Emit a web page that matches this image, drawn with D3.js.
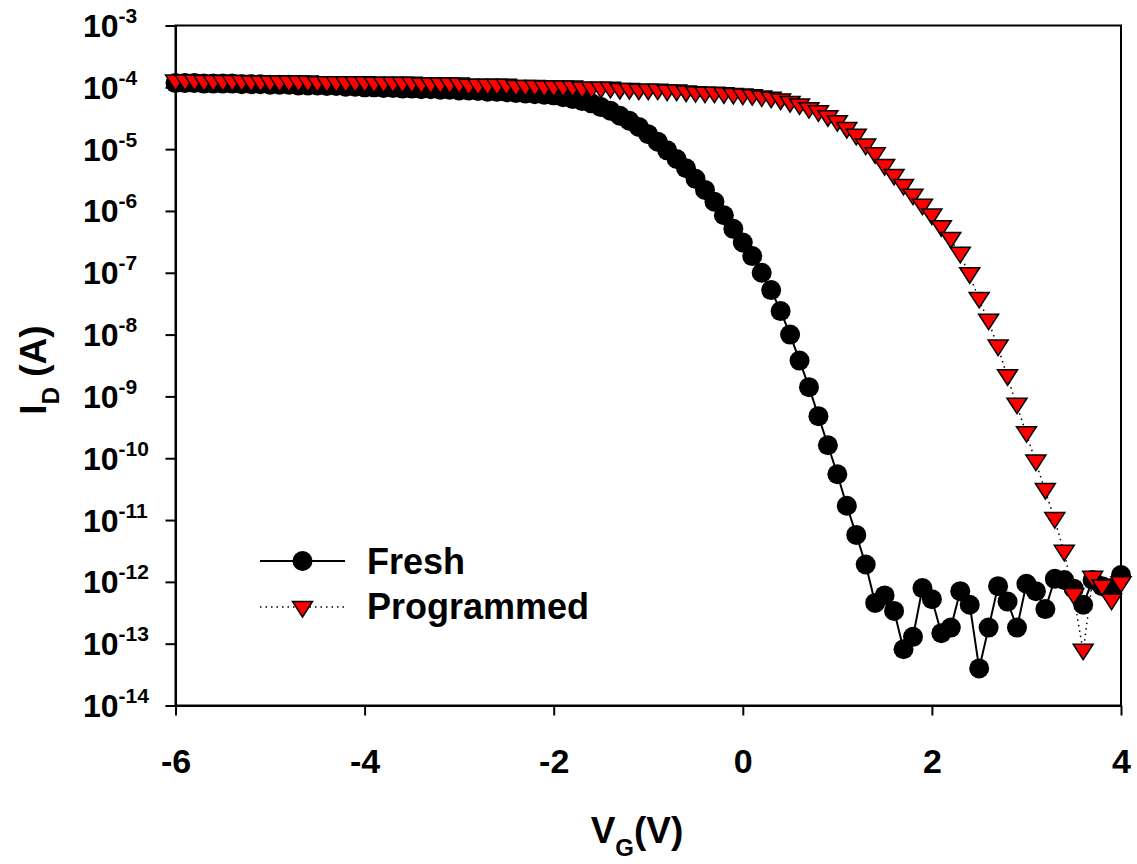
<!DOCTYPE html>
<html>
<head>
<meta charset="utf-8">
<script src="https://cdn.jsdelivr.net/npm/d3@7/dist/d3.min.js"></script>
<style>
  body { margin: 0; background: #fff; }
  svg { display: block; font-family: "Liberation Sans", Arial, sans-serif; font-weight: bold; }
</style>
</head>
<body>
<div id="chart"></div>
<script>
// gate voltage sweep (V)
const vg = [-6.0, -5.9, -5.8, -5.7, -5.6, -5.5, -5.4, -5.3, -5.2, -5.1,
    -5.0, -4.9, -4.8, -4.7, -4.6, -4.5, -4.4, -4.3, -4.2, -4.1,
    -4.0, -3.9, -3.8, -3.7, -3.6, -3.5, -3.4, -3.3, -3.2, -3.1,
    -3.0, -2.9, -2.8, -2.7, -2.6, -2.5, -2.4, -2.3, -2.2, -2.1,
    -2.0, -1.9, -1.8, -1.7, -1.6, -1.5, -1.4, -1.3, -1.2, -1.1,
    -1.0, -0.9, -0.8, -0.7, -0.6, -0.5, -0.4, -0.3, -0.2, -0.1,
    0.0, 0.1, 0.2, 0.3, 0.4, 0.5, 0.6, 0.7, 0.8, 0.9,
    1.0, 1.1, 1.2, 1.3, 1.4, 1.5, 1.6, 1.7, 1.8, 1.9,
    2.0, 2.1, 2.2, 2.3, 2.4, 2.5, 2.6, 2.7, 2.8, 2.9,
    3.0, 3.1, 3.2, 3.3, 3.4, 3.5, 3.6, 3.7, 3.8, 3.9, 4.0];

// drain current (A), fresh device
const idFresh = [1.17e-4, 1.17e-4, 1.17e-4, 1.15e-4, 1.15e-4, 1.15e-4, 1.15e-4, 1.12e-4, 1.12e-4, 1.12e-4,
    1.10e-4, 1.10e-4, 1.10e-4, 1.07e-4, 1.07e-4, 1.07e-4, 1.05e-4, 1.05e-4, 1.02e-4, 1.02e-4,
    1.00e-4, 1.00e-4, 9.77e-5, 9.77e-5, 9.55e-5, 9.55e-5, 9.33e-5, 9.33e-5, 9.12e-5, 9.12e-5,
    8.91e-5, 8.91e-5, 8.71e-5, 8.51e-5, 8.51e-5, 8.32e-5, 8.13e-5, 7.94e-5, 7.76e-5, 7.59e-5,
    7.41e-5, 6.92e-5, 6.46e-5, 6.03e-5, 5.50e-5, 4.79e-5, 4.17e-5, 3.47e-5, 2.88e-5, 2.29e-5,
    1.74e-5, 1.32e-5, 9.55e-6, 6.92e-6, 4.90e-6, 3.31e-6, 2.19e-6, 1.41e-6, 8.51e-7, 5.13e-7,
    3.09e-7, 1.86e-7, 1.00e-7, 5.25e-8, 2.40e-8, 1.00e-8, 3.80e-9, 1.41e-9, 4.79e-10, 1.62e-10,
    5.50e-11, 1.70e-11, 5.75e-12, 1.91e-12, 4.57e-13, 6.03e-13, 3.39e-13, 8.13e-14, 1.29e-13, 7.94e-13,
    5.25e-13, 1.48e-13, 1.82e-13, 7.08e-13, 4.27e-13, 3.98e-14, 1.82e-13, 8.51e-13, 4.79e-13, 1.82e-13,
    9.33e-13, 7.08e-13, 3.63e-13, 1.12e-12, 1.07e-12, 7.76e-13, 4.27e-13, 1.07e-12, 8.51e-13, 7.94e-13, 1.29e-12];

// drain current (A), after programming
const idProgrammed = [1.20e-4, 1.20e-4, 1.20e-4, 1.17e-4, 1.17e-4, 1.17e-4, 1.17e-4, 1.17e-4, 1.15e-4, 1.15e-4,
    1.15e-4, 1.15e-4, 1.15e-4, 1.15e-4, 1.15e-4, 1.12e-4, 1.12e-4, 1.12e-4, 1.12e-4, 1.12e-4,
    1.12e-4, 1.10e-4, 1.10e-4, 1.10e-4, 1.10e-4, 1.10e-4, 1.07e-4, 1.07e-4, 1.07e-4, 1.07e-4,
    1.07e-4, 1.02e-4, 1.02e-4, 1.02e-4, 1.02e-4, 1.02e-4, 9.77e-5, 9.77e-5, 9.77e-5, 9.55e-5,
    9.55e-5, 9.55e-5, 9.55e-5, 9.12e-5, 9.12e-5, 9.12e-5, 9.12e-5, 8.71e-5, 8.71e-5, 8.51e-5,
    8.51e-5, 8.51e-5, 8.22e-5, 8.22e-5, 7.94e-5, 7.76e-5, 7.59e-5, 7.59e-5, 7.41e-5, 7.24e-5,
    7.08e-5, 6.92e-5, 6.61e-5, 6.31e-5, 5.89e-5, 5.37e-5, 4.90e-5, 4.27e-5, 3.80e-5, 3.16e-5,
    2.63e-5, 2.04e-5, 1.58e-5, 1.10e-5, 7.94e-6, 5.13e-6, 3.55e-6, 2.45e-6, 1.70e-6, 1.17e-6,
    8.13e-7, 5.25e-7, 3.39e-7, 1.95e-7, 9.12e-8, 3.63e-8, 1.62e-8, 6.17e-9, 2.04e-9, 7.08e-10,
    2.45e-10, 8.51e-11, 2.95e-11, 1.00e-11, 2.95e-12, 5.89e-13, 7.41e-14, 1.12e-12, 8.13e-13, 4.79e-13, 9.12e-13];

const xTicks = [-6, -4, -2, 0, 2, 4];
const yTickExps = [-3, -4, -5, -6, -7, -8, -9, -10, -11, -12, -13, -14];
const seriesNames = ['Fresh', 'Programmed'];

const width = 1137, height = 864;
const margin = { left: 175.5, right: 16, top: 25.5, bottom: 158.5 };

const svg = d3.select('#chart').append('svg')
    .attr('width', width)
    .attr('height', height);

const x = d3.scaleLinear().domain([-6, 4]).range([margin.left, width - margin.right]);
const y = d3.scaleLog().domain([1e-14, 1e-3]).range([height - margin.bottom, margin.top]);

// x axis, ticks outward
const xAxis = svg.append('g')
    .attr('transform', `translate(0,${y.range()[0]})`)
    .call(d3.axisBottom(x).tickValues(xTicks).tickSize(10).tickSizeOuter(0).tickPadding(33)
        .tickFormat(d => d));
xAxis.selectAll('text').attr('font-size', 34).attr('fill', '#000')
    .attr('font-family', '"Liberation Sans", Arial, sans-serif').attr('font-weight', 'bold');

// y axis, power-of-ten labels left aligned
const yAxis = svg.append('g')
    .attr('transform', `translate(${x.range()[0]},0)`)
    .call(d3.axisLeft(y).tickValues(yTickExps.map(e => Math.pow(10, e))).tickSize(10).tickSizeOuter(0)
        .tickFormat(''));
yAxis.selectAll('.tick').each(function (d) {
    const t = d3.select(this).append('text')
        .attr('x', 83 - x.range()[0])
        .attr('y', 11)
        .attr('text-anchor', 'start')
        .attr('fill', '#000')
        .attr('font-size', 32);
    t.append('tspan').text('10');
    t.append('tspan').attr('dy', -14).attr('font-size', 21)
        .text(Math.round(Math.log10(d)));
});
svg.selectAll('.domain, .tick line').attr('stroke', '#000').attr('stroke-width', 2);

// frame around the plot
svg.append('rect')
    .attr('x', x.range()[0]).attr('y', y.range()[1])
    .attr('width', x.range()[1] - x.range()[0])
    .attr('height', y.range()[0] - y.range()[1])
    .attr('fill', 'none').attr('stroke', '#000').attr('stroke-width', 2);

const fresh = vg.map((v, i) => ({ v: v, id: idFresh[i] }));
const programmed = vg.map((v, i) => ({ v: v, id: idProgrammed[i] }));

const line = d3.line().x(d => x(d.v)).y(d => y(d.id));
const tri = 'M-10,-7.5L10,-7.5L0,8Z';

// fresh: solid line, black circles
svg.append('path').datum(fresh)
    .attr('d', line).attr('fill', 'none').attr('stroke', '#000').attr('stroke-width', 2);
svg.append('g').selectAll('circle').data(fresh).enter().append('circle')
    .attr('cx', d => x(d.v)).attr('cy', d => y(d.id)).attr('r', 10).attr('fill', '#000');

// programmed: dotted line, red down triangles
svg.append('path').datum(programmed)
    .attr('d', line).attr('fill', 'none').attr('stroke', '#000').attr('stroke-width', 1.5)
    .attr('stroke-dasharray', '1.5,4');
svg.append('g').selectAll('path').data(programmed).enter().append('path')
    .attr('d', tri)
    .attr('transform', d => `translate(${x(d.v)},${y(d.id)})`)
    .attr('fill', '#ff0000').attr('stroke', '#000').attr('stroke-width', 1.5);

// legend
const legend = svg.append('g');
legend.append('line').attr('x1', 260).attr('x2', 345).attr('y1', 561).attr('y2', 561)
    .attr('stroke', '#000').attr('stroke-width', 2);
legend.append('circle').attr('cx', 302.5).attr('cy', 561).attr('r', 10).attr('fill', '#000');
legend.append('text').attr('x', 367).attr('y', 574).attr('font-size', 36).text(seriesNames[0]);
legend.append('line').attr('x1', 260).attr('x2', 345).attr('y1', 607).attr('y2', 607)
    .attr('stroke', '#000').attr('stroke-width', 1.5).attr('stroke-dasharray', '1.5,4');
legend.append('path').attr('d', tri).attr('transform', 'translate(302.5,609)')
    .attr('fill', '#ff0000').attr('stroke', '#000').attr('stroke-width', 1.5);
legend.append('text').attr('x', 367).attr('y', 619).attr('font-size', 36).text(seriesNames[1]);

// axis titles
const xt = svg.append('text').attr('x', 637).attr('y', 843).attr('text-anchor', 'middle').attr('font-size', 37);
xt.append('tspan').text('V');
xt.append('tspan').attr('dy', 13).attr('font-size', 24).text('G');
xt.append('tspan').attr('dy', -13).text('(V)');

const yt = svg.append('text').attr('transform', 'translate(46,370) rotate(-90)')
    .attr('text-anchor', 'middle').attr('font-size', 37);
yt.append('tspan').text('I');
yt.append('tspan').attr('dy', 13).attr('font-size', 24).text('D');
yt.append('tspan').attr('dy', -13).text(' (A)');
</script>
</body>
</html>
